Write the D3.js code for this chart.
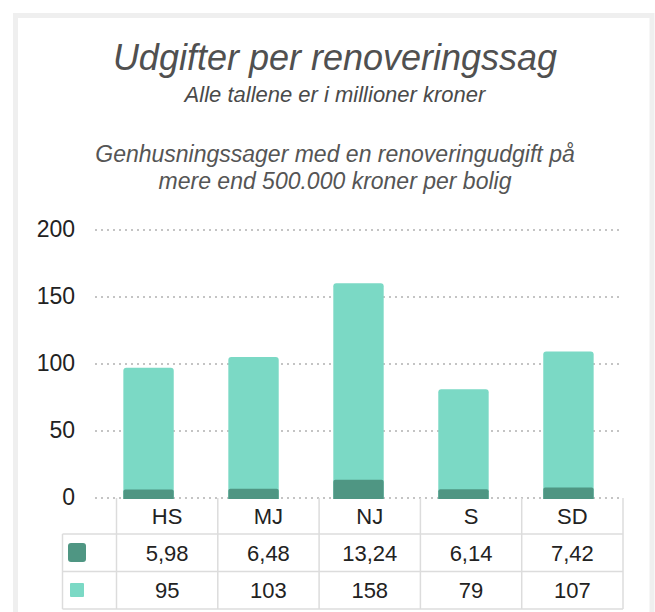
<!DOCTYPE html>
<html>
<head>
<meta charset="utf-8">
<script src="https://cdn.jsdelivr.net/npm/d3@7"></script>
<style>
  body { margin: 0; background: #fff; }
  svg { display: block; font-family: "Liberation Sans", Arial, sans-serif; }
</style>
</head>
<body>
<div class="chart"></div>
<script>
const categories = ['HS', 'MJ', 'NJ', 'S', 'SD']
const darkValues = [5.98, 6.48, 13.24, 6.14, 7.42]
const lightValues = [95, 103, 158, 79, 107]
const darkLabels = ['5,98', '6,48', '13,24', '6,14', '7,42']
const lightLabels = ['95', '103', '158', '79', '107']
const yTicks = [0, 50, 100, 150, 200]

const width = 655, height = 612
const darkColor = '#4f9683', lightColor = '#7bd9c5'

const svg = d3.select('.chart').append('svg')
  .attr('width', width)
  .attr('height', height)

// outer frame
svg.append('rect')
  .attr('x', 15.5).attr('y', 15.5)
  .attr('width', 636.5).attr('height', 640)
  .attr('fill', 'none')
  .attr('stroke', '#efefef')
  .attr('stroke-width', 5)

const titles = [
  { t: 'Udgifter per renoveringssag', y: 70, size: 36, fill: '#505050' },
  { t: 'Alle tallene er i millioner kroner', y: 102, size: 22, fill: '#4a4a4a' },
  { t: 'Genhusningssager med en renoveringudgift på', y: 162, size: 23, fill: '#555' },
  { t: 'mere end 500.000 kroner per bolig', y: 189, size: 23, fill: '#555' }
]

svg.selectAll('text.title')
  .data(titles)
  .enter()
  .append('text')
  .attr('class', 'title')
  .attr('x', 335)
  .attr('y', d => d.y)
  .attr('text-anchor', 'middle')
  .attr('font-style', 'italic')
  .attr('font-size', d => d.size)
  .attr('fill', d => d.fill)
  .text(d => d.t)

let x = d3.scaleBand()
  .domain(categories)
  .range([95, 622])
  .paddingInner(0.52)
  .paddingOuter(0.27)

let y = d3.scaleLinear()
  .domain([0, 200])
  .range([497.5, 229.5])

// grid
const yAxis = svg.append('g')
  .attr('transform', 'translate(95,0)')
  .call(d3.axisLeft(y).tickValues(yTicks).tickSize(-527).tickPadding(20))

yAxis.select('.domain').remove()
yAxis.selectAll('.tick line')
  .attr('stroke', '#c4c4c4')
  .attr('stroke-width', 2)
  .attr('stroke-dasharray', '2,4')
yAxis.selectAll('.tick text')
  .attr('font-size', 23)
  .attr('fill', '#222')
  .attr('font-family', '"Liberation Sans", Arial, sans-serif')

// bar with rounded top corners
const barPath = (x0, w, yTop, yBot, r) => {
  r = Math.min(r, (yBot - yTop) / 2)
  return `M${x0},${yBot}V${yTop + r}Q${x0},${yTop} ${x0 + r},${yTop}` +
    `H${x0 + w - r}Q${x0 + w},${yTop} ${x0 + w},${yTop + r}V${yBot}Z`
}

const bars = svg.append('g')

bars.selectAll('path.light')
  .data(categories)
  .enter()
  .append('path')
  .attr('class', 'light')
  .attr('fill', lightColor)
  .attr('d', (d, i) => barPath(x(d), x.bandwidth(), y(lightValues[i]) - 2.5, y(0) + 1.5, 3))

bars.selectAll('path.dark')
  .data(categories)
  .enter()
  .append('path')
  .attr('class', 'dark')
  .attr('fill', darkColor)
  .attr('d', (d, i) => barPath(x(d), x.bandwidth(), y(darkValues[i]), y(0) + 1.5, 2))

// data table
let tx = d3.scaleBand()
  .domain(categories)
  .range([116.5, 623])

const rowTops = [498, 534, 571.5, 609]
const lineColor = '#dcdcdc'
const table = svg.append('g')

// horizontal lines
rowTops.slice(1).forEach(t => {
  table.append('line')
    .attr('x1', 62.5).attr('x2', tx.range()[1])
    .attr('y1', t).attr('y2', t)
})

// vertical lines
table.selectAll('line.col')
  .data(categories.concat(['end']))
  .enter()
  .append('line')
  .attr('class', 'col')
  .attr('x1', d => d === 'end' ? tx.range()[1] : tx(d))
  .attr('x2', d => d === 'end' ? tx.range()[1] : tx(d))
  .attr('y1', rowTops[0])
  .attr('y2', rowTops[3])

table.append('line')
  .attr('x1', 62.5).attr('x2', 62.5)
  .attr('y1', rowTops[1]).attr('y2', rowTops[3])

table.selectAll('line')
  .attr('stroke', lineColor)
  .attr('stroke-width', 1.5)

const rows = [categories, darkLabels, lightLabels]
rows.forEach((row, r) => {
  table.selectAll('text.r' + r)
    .data(row)
    .enter()
    .append('text')
    .attr('class', 'r' + r)
    .attr('x', (d, i) => tx(categories[i]) + tx.bandwidth() / 2)
    .attr('y', (rowTops[r] + rowTops[r + 1]) / 2 + 8)
    .attr('text-anchor', 'middle')
    .attr('font-size', 22)
    .attr('fill', '#222')
    .text(d => d)
})

// legend swatches
table.append('rect')
  .attr('x', 68).attr('y', 543)
  .attr('width', 18).attr('height', 19)
  .attr('rx', 3)
  .attr('fill', darkColor)
table.append('rect')
  .attr('x', 70).attr('y', 583)
  .attr('width', 14).attr('height', 14)
  .attr('rx', 1)
  .attr('fill', lightColor)
</script>
</body>
</html>
